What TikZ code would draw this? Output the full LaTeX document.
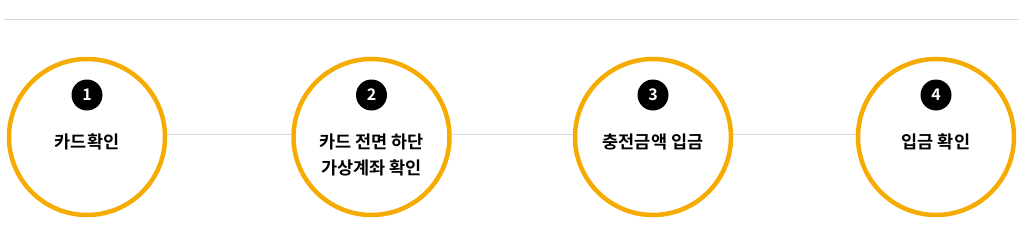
\documentclass[tikz,border=0pt]{standalone}
\usepackage{fontspec}
\setmainfont{Noto Sans CJK KR}[BoldFont={Noto Sans CJK KR Bold}]
\usetikzlibrary{positioning}
\definecolor{stepgold}{RGB}{246,171,0}
\definecolor{railgray}{RGB}{218,218,218}

\begin{document}
\begin{tikzpicture}[x=1pt, y=1pt,
  ring/.style={circle, draw=stepgold, line width=4.5pt, fill=white,
               minimum size=156pt, inner sep=0pt},
  badge/.style={circle, fill=black, text=white, minimum size=31pt,
                inner sep=0pt, font=\fontsize{16}{16}\selectfont\bfseries},
  lbl/.style={align=center, font=\fontsize{17.5}{26}\selectfont\bfseries},
  rail/.style={draw=railgray, line width=1pt}
]
  \useasboundingbox (0,0) rectangle (1026,234);

  % top rule
  \coordinate (ruleL) at (4,215);
  \coordinate (ruleR) at (1019,215);
  \draw[rail] (ruleL) -- (ruleR);

  \node[ring] (s1) at (87,97) {};
  \node[ring] (s2) at (371.5,97) {};
  \node[ring] (s3) at (653,97) {};
  \node[ring] (s4) at (936,97) {};

  \draw[rail] ([yshift=3pt]s1.east) -- ([yshift=3pt]s2.west);
  \draw[rail] ([yshift=3pt]s2.east) -- ([yshift=3pt]s3.west);
  \draw[rail] ([yshift=3pt]s3.east) -- ([yshift=3pt]s4.west);

  \node[badge] (n1) at (87,139) {1};
  \node[badge] (n2) at (371.5,139) {2};
  \node[badge] (n3) at (653,139) {3};
  \node[badge] (n4) at (936,139) {4};

  \node[lbl] (t1) at (87,92) {카드확인};
  \node[lbl] (t2) at (371.5,79) {카드 전면 하단\\가상계좌 확인};
  \node[lbl] (t3) at (653,92) {충전금액 입금};
  \node[lbl] (t4) at (936,92) {입금 확인};

\end{tikzpicture}
\end{document}
